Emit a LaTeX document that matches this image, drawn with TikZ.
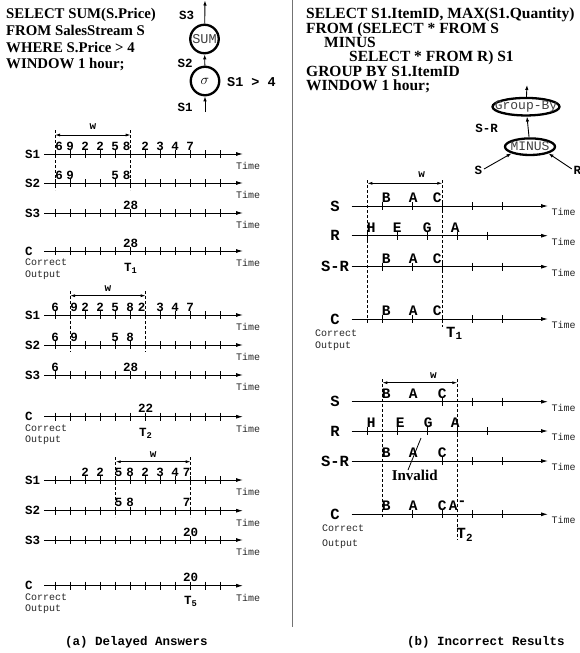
\documentclass[tikz,border=0pt]{standalone}
\usepackage{fontspec}
\setmainfont{Liberation Serif}
\setmonofont{Liberation Mono}
\usepackage{tikz}
\usetikzlibrary{arrows.meta,positioning,shapes.geometric,calc}
\newcommand{\tightlines}{\lineskiplimit=-20pt\relax}

\begin{document}
\begin{tikzpicture}[x=1pt, y=-1pt,
query/.style={align=left, anchor=north west, inner sep=0pt, font=\bfseries\fontsize{14.8}{16.8}\selectfont\tightlines},
opnode/.style={draw, circle, line width=2.3pt, minimum size=28.5pt, inner sep=0pt, text=black!75, font=\ttfamily\fontsize{13.5}{13.5}\selectfont},
opell/.style={draw, ellipse, line width=2.3pt, inner sep=0pt, text=black!75, font=\ttfamily\fontsize{13}{13}\selectfont},
arrow/.style={-{Latex[length=5pt,width=3.5pt]}, line width=0.9pt},
axis/.style={-{Latex[length=7pt,width=4pt]}, line width=0.9pt},
tick/.style={line width=0.9pt},
win/.style={line width=0.7pt, dash pattern=on 3pt off 2pt},
wlen/.style={{Latex[length=5pt,width=3pt]}-{Latex[length=5pt,width=3pt]}, line width=0.8pt},
lbl/.style={inner sep=0pt, font=\ttfamily\bfseries\fontsize{12.5}{12.5}\selectfont},
stream/.style={lbl, anchor=west},
bigstream/.style={inner sep=0pt, font=\ttfamily\bfseries\fontsize{15.5}{15.5}\selectfont},
val/.style={inner sep=0pt, anchor=base, font=\ttfamily\bfseries\fontsize{12.5}{12.5}\selectfont},
letter/.style={inner sep=0pt, anchor=base, font=\ttfamily\bfseries\fontsize{14.5}{14.5}\selectfont},
note/.style={inner sep=0pt, align=left, anchor=north west, text=black!85, font=\ttfamily\fontsize{10}{11.3}\selectfont},
timelbl/.style={inner sep=0pt, text=black!85, font=\ttfamily\fontsize{10}{10}\selectfont},
caption/.style={inner sep=0pt, font=\ttfamily\bfseries\fontsize{12.5}{12.5}\selectfont}
]
\useasboundingbox (0,0) rectangle (580,653);

% (a) delayed answers
\node[query] (qa) at (6,8) {SELECT SUM(S.Price)\\FROM SalesStream S\\WHERE S.Price > 4\\WINDOW 1 hour;};

\node[opnode] (sum) at (204.5,39) {\makebox[0pt]{SUM}};
\node[opnode, text=black, font=\fontsize{15}{15}\selectfont] (sel) at (205,81) {\makebox[0pt]{$\sigma$}};
\coordinate (s1in) at (205,112);
\coordinate (s3out) at (205,0.5);
\draw[arrow] (s1in) -- (sel);
\draw[arrow] (sel) -- (sum);
\draw[arrow] (sum) -- (s3out);
\node[lbl] (ls3) at (186.7,15) {S3};
\node[lbl] (ls2) at (185,63.5) {S2};
\node[lbl] (ls1) at (185,107.3) {S1};
\node[lbl, font=\ttfamily\bfseries\fontsize{13.5}{13.5}\selectfont] (cond) at (251.5,81.7) {S1 > 4};

\foreach \nm/\lab/\y in {a1/S1/154, a2/S2/183, a3/S3/213, a4/C/251, b1/S1/315, b2/S2/345, b3/S3/375, b4/C/416.7, c1/S1/480, c2/S2/510.7, c3/S3/540, c4/C/585.7} {
  \node[stream] (\nm) at (25,\y) {\lab};
  \coordinate (\nm start) at (44,\y);
  \coordinate (\nm end) at (243,\y);
  \draw[axis] (\nm start) -- (\nm end);
  \foreach \i in {1,...,12} \draw[tick] (40+15*\i,\y-4) -- (40+15*\i,\y+4);
  \node[timelbl] at (248,\y+12) {Time};
}

% window 1
\draw[win] (55,130) -- (55,190);
\draw[win] (130.7,130) -- (130.7,190);
\coordinate (wa l) at (55,135);
\coordinate (wa r) at (130.7,135);
\draw[wlen] (wa l) -- (wa r);
\node[lbl, font=\ttfamily\bfseries\fontsize{11}{11}\selectfont] (wa) at (92.8,127) {w};
\foreach \i/\v/\dx in {1/6/4,2/9/0,3/2/0,4/2/0,5/5/0,6/8/-3.5,7/2/0,8/3/0,9/4/0,10/7/0}
  \node[val] at (40+15*\i+\dx,150) {\v};
\foreach \i/\v/\dx in {1/6/4,2/9/0,5/5/0,6/8/-3.5}
  \node[val] at (40+15*\i+\dx,179) {\v};
\node[val] at (130.7,209) {28};
\node[val] at (130.7,247) {28};
\node[note] (oa) at (25,259) {Correct\\Output};
\node[lbl] (ta) at (130.7,268) {T\textsubscript{1}};

% window 2
\draw[win] (70,291) -- (70,352);
\draw[win] (145.7,291) -- (145.7,352);
\coordinate (wb l) at (70,295.7);
\coordinate (wb r) at (145.7,295.7);
\draw[wlen] (wb l) -- (wb r);
\node[lbl, font=\ttfamily\bfseries\fontsize{11}{11}\selectfont] (wb) at (107.8,288.5) {w};
\foreach \i/\v/\dx in {1/6/0,2/9/4,3/2/0,4/2/0,5/5/0,6/8/0,7/2/-3.5,8/3/0,9/4/0,10/7/0}
  \node[val] at (40+15*\i+\dx,311) {\v};
\foreach \i/\v/\dx in {1/6/0,2/9/4,5/5/0,6/8/0}
  \node[val] at (40+15*\i+\dx,341) {\v};
\node[val] at (55,371) {6};
\node[val] at (130.7,371) {28};
\node[val] at (145.7,412.7) {22};
\node[note] (ob) at (25,424.2) {Correct\\Output};
\node[lbl] (tb) at (145.7,433) {T\textsubscript{2}};

% window 3
\draw[win] (115.7,457) -- (115.7,517);
\draw[win] (190.7,457) -- (190.7,517);
\coordinate (wc l) at (115.7,461.7);
\coordinate (wc r) at (190.7,461.7);
\draw[wlen] (wc l) -- (wc r);
\node[lbl, font=\ttfamily\bfseries\fontsize{11}{11}\selectfont] (wc) at (153.2,455) {w};
\foreach \i/\v/\dx in {3/2/0,4/2/0,5/5/3.5,6/8/0,7/2/0,8/3/0,9/4/0,10/7/-3.5}
  \node[val] at (40+15*\i+\dx,476) {\v};
\foreach \i/\v/\dx in {5/5/3.5,6/8/0,10/7/-3.5}
  \node[val] at (40+15*\i+\dx,506.7) {\v};
\node[val] at (190.7,536) {20};
\node[val] at (190.7,581.7) {20};
\node[note] (oc) at (25,593.2) {Correct\\Output};
\node[lbl] (tc) at (190.7,601.7) {T\textsubscript{5}};

\node[caption] (capa) at (136.5,642) {(a) Delayed Answers};

% divider
\draw[line width=1.5pt, black!55] (292.7,0) -- (292.7,627);

% (b) incorrect results
\node[query, font=\bfseries\fontsize{15.5}{14.3}\selectfont\tightlines] (qb) at (306,8) {SELECT S1.ItemID, MAX(S1.Quantity)\\FROM (SELECT * FROM S\\\hspace*{18pt}MINUS\\\hspace*{43pt}SELECT * FROM R) S1\\GROUP BY S1.ItemID\\WINDOW 1 hour;};

\node[opell, minimum width=67pt, minimum height=17.5pt] (gb) at (526,106.7) {\makebox[0pt]{Group-By}};
\node[opell, minimum width=50pt, minimum height=16.6pt] (minus) at (530,146.7) {\makebox[0pt]{MINUS}};
\coordinate (gbout) at (527,85);
\draw[arrow] (gb) -- (gbout);
\draw[arrow] (minus) -- (gb);
\node[lbl] (sr) at (486.7,128.3) {S-R};
\node[lbl] (sin) at (478.3,170) {S};
\node[lbl] (rin) at (577.3,170) {R};
\draw[arrow, shorten <=2pt] (sin.east) -- (minus.south west);
\draw[arrow, shorten <=2pt] (rin.west) -- (minus.south east);

\foreach \nm/\lab/\y in {p1/S/206, p2/R/235.7, p3/S-R/266.7, p4/C/319, q1/S/401.7, q2/R/431, q3/S-R/461, q4/C/514.3} {
  \node[bigstream] (\nm) at (335,\y) {\lab};
  \coordinate (\nm start) at (351.7,\y);
  \coordinate (\nm end) at (548,\y);
  \draw[axis] (\nm start) -- (\nm end);
  \node[timelbl] at (563.5,\y+6) {Time};
}
\foreach \y/\ks in {206/{2,4,6,8,10}, 235.7/{1,3,5,7,9}, 266.7/{2,4,6,8,10}, 319/{2,4,6,8,10}, 401.7/{6,8,10}, 431/{1,3,5,7,9}, 461/{6,8,10}, 514.3/{4,6,8,10}}
  \foreach \k in \ks \draw[tick] (352.3+15*\k,\y-4) -- (352.3+15*\k,\y+4);

% window T1
\draw[win] (367.3,180) -- (367.3,323);
\draw[win] (442.3,180) -- (442.3,327);
\coordinate (wp l) at (367.3,183.3);
\coordinate (wp r) at (442.3,183.3);
\draw[wlen] (wp l) -- (wp r);
\node[lbl, font=\ttfamily\bfseries\fontsize{11}{11}\selectfont] (wp) at (421.7,174.5) {w};
\foreach \y in {202.5,263.2,315.5}
  \foreach \k/\c/\dx in {2/B/4,4/A/1,6/C/-5}
    \node[letter] at (352.3+15*\k+\dx,\y) {\c};
\foreach \k/\c/\dx in {1/H/4,3/E/0,5/G/0,7/A/-2}
  \node[letter] at (352.3+15*\k+\dx,232.2) {\c};
\node[note] (op) at (315,330) {Correct\\Output};
\node[bigstream, anchor=west] (tp) at (446,333) {T\textsubscript{1}};

% window T2
\draw[win] (382.3,379) -- (382.3,517);
\draw[win] (457.3,379) -- (457.3,540);
\coordinate (wq l) at (382.3,382.7);
\coordinate (wq r) at (457.3,382.7);
\draw[wlen] (wq l) -- (wq r);
\node[lbl, font=\ttfamily\bfseries\fontsize{11}{11}\selectfont] (wq) at (433.3,375.5) {w};
\foreach \y in {398.2,457.5,510.8}
  \foreach \k/\c/\dx in {2/B/4,4/A/1,6/C/0}
    \node[letter] at (352.3+15*\k+\dx,\y) {\c};
\foreach \k/\c/\dx in {1/H/4,3/E/3,5/G/1,7/A/-2}
  \node[letter] at (352.3+15*\k+\dx,427.5) {\c};
\node[letter] (aminus) at (453.3,510.8) {A\rlap{\raisebox{5pt}{-}}};
\node[inner sep=0pt, font=\bfseries\fontsize{15}{15}\selectfont] (invalid) at (414.7,475.5) {Invalid};
\coordinate (invtop) at (421,438);
\draw[line width=0.8pt] (invtop) -- ([xshift=-6.7pt]invalid.north);
\node[note, font=\ttfamily\fontsize{10}{15}\selectfont] (oq) at (322,525) {Correct\\Output};
\node[bigstream, anchor=west] (tq) at (456.5,535) {T\textsubscript{2}};

\node[caption] (capb) at (486,642) {(b) Incorrect Results};
\end{tikzpicture}
\end{document}
